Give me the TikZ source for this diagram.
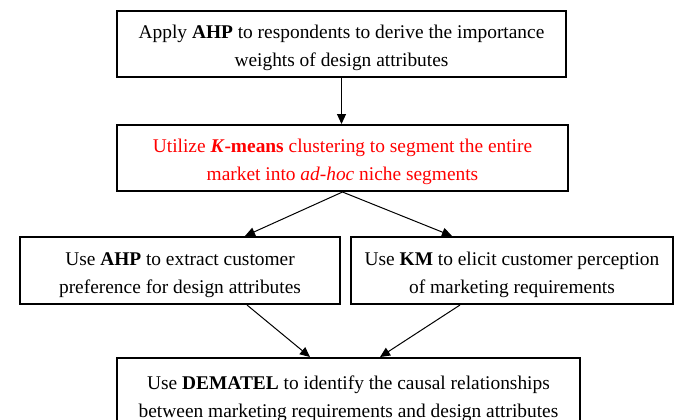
\documentclass[tikz,border=0pt]{standalone}
\usepackage{fontspec}
\setmainfont{Liberation Serif}
\usetikzlibrary{calc, arrows.meta, positioning}
\newcommand{\topgap}{\rule{0pt}{11pt}}

\begin{document}
\begin{tikzpicture}[x=0.5pt, y=-0.5pt,
	stepbox/.style={draw, line width=1pt, align=center, inner sep=0pt, font=\fontsize{9.7}{14}\selectfont},
	flow/.style={-{Triangle[length=5pt, width=4.5pt]}, line width=0.5pt}]
	\useasboundingbox (0,0) rectangle (678,419);

	\node[stepbox, minimum width=224.5pt, minimum height=33pt] (ahp) at (341.5,44) {\topgap Apply \textbf{AHP} to respondents to derive the importance\\weights of design attributes};
	\node[stepbox, text=red, minimum width=225.5pt, minimum height=33pt] (kmeans) at (342.5,158) {\topgap Utilize \textbf{\textit{K}-means} clustering to segment the entire\\market into \textit{ad-hoc} niche segments};
	\node[stepbox, minimum width=160pt, minimum height=33.5pt] (pref) at (180,270.5) {\topgap Use \textbf{AHP} to extract customer\\preference for design attributes};
	\node[stepbox, minimum width=161pt, minimum height=33.5pt] (km) at (512,270.5) {\topgap Use \textbf{KM} to elicit customer perception\\of marketing requirements};
	\node[stepbox, minimum width=231.5pt, minimum height=36.5pt] (dematel) at (348.5,394.5) {\topgap Use \textbf{DEMATEL} to identify the causal relationships\\between marketing requirements and design attributes};

	\draw[flow] (ahp.south) -- (ahp.south |- kmeans.north);
	\draw[flow] (kmeans.south) -- ($(pref.north)+(65,0)$);
	\draw[flow] (kmeans.south) -- ($(km.north)+(-60,0)$);
	\draw[flow] ($(pref.south)+(67,0)$) -- ($(dematel.north)+(-38.5,0)$);
	\draw[flow] ($(km.south)+(-52,0)$) -- ($(dematel.north)+(31.5,0)$);
\end{tikzpicture}
\end{document}
